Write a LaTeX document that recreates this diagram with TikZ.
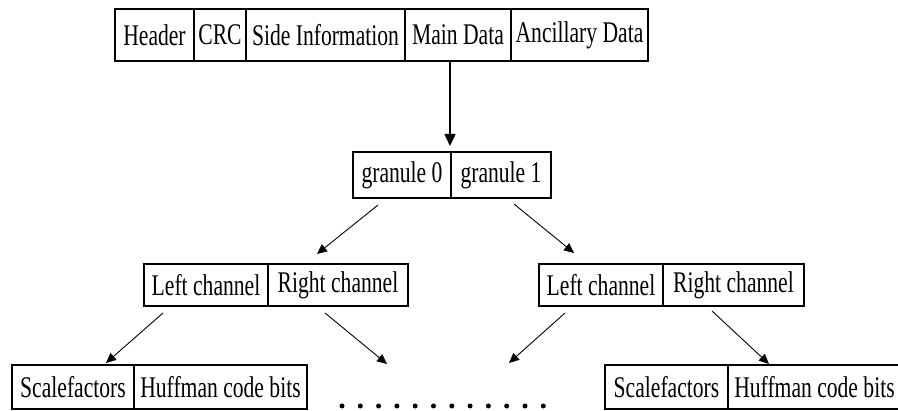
\documentclass[tikz,border=0pt]{standalone}
\usepackage{fontspec}
\setmainfont{Liberation Serif}
\usetikzlibrary{arrows.meta}
\newcommand{\cond}[1]{\scalebox{0.72}[1]{#1}}
\begin{document}
\begin{tikzpicture}[x=1pt,y=-1pt,
  cell/.style={draw, line width=1.2pt, inner sep=0pt, anchor=center,
    font=\fontsize{30}{36}\selectfont},
  link/.style={line width=0.9pt, -{Triangle[length=10pt,width=9pt]}},
  mainlink/.style={line width=1.4pt, -{Triangle[length=12pt,width=11pt]}},
  dot/.style={circle, fill, inner sep=0pt, minimum size=5pt}]
  \useasboundingbox (0,0) rectangle (898,411);

  % frame layout
  \node[cell, minimum width=79pt,  minimum height=52pt] (hdr)  at (154.5,35) {\cond{Header}};
  \node[cell, minimum width=52pt,  minimum height=52pt] (crc)  at (220,35)   {\cond{CRC}};
  \node[cell, minimum width=159pt, minimum height=52pt] (side) at (325.5,35) {\cond{Side Information}};
  \node[cell, minimum width=106pt, minimum height=52pt] (main) at (458,35)   {\cond{Main Data}};
  \node[cell, minimum width=137pt, minimum height=52pt] (anc)  at (579.5,35) {\cond{Ancillary Data}};

  % granules
  \node[cell, minimum width=98pt,  minimum height=46pt] (gr0) at (402,175) {\cond{granule 0}};
  \node[cell, minimum width=100pt, minimum height=46pt] (gr1) at (501,175) {\cond{granule 1}};

  % channels of granule 0
  \node[cell, minimum width=124pt, minimum height=42pt] (lcA) at (206,285) {\cond{Left channel}};
  \node[cell, minimum width=140pt, minimum height=42pt] (rcA) at (338,285) {\cond{Right channel}};

  % channels of granule 1
  \node[cell, minimum width=124pt, minimum height=42pt] (lcB) at (601,285)   {\cond{Left channel}};
  \node[cell, minimum width=141pt, minimum height=42pt] (rcB) at (733.5,285) {\cond{Right channel}};

  % channel contents
  \node[cell, minimum width=122pt, minimum height=44pt] (sfA) at (73,387)    {\cond{Scalefactors}};
  \node[cell, minimum width=173pt, minimum height=44pt] (hcA) at (220.5,387) {\cond{Huffman code bits}};
  \node[cell, minimum width=123pt, minimum height=44pt] (sfB) at (666.5,387) {\cond{Scalefactors}};
  \node[cell, minimum width=173pt, minimum height=44pt] (hcB) at (814.5,387) {\cond{Huffman code bits}};

  % connector end points
  \coordinate (mainTail) at (450,61);
  \coordinate (mainTip)  at (450,146);
  \coordinate (g0Tail) at (378,205);
  \coordinate (g0Tip)  at (317,254);
  \coordinate (g1Tail) at (514,204);
  \coordinate (g1Tip)  at (574,253);
  \coordinate (aLTail) at (163,313);
  \coordinate (aLTip)  at (106,363);
  \coordinate (aRTail) at (325,313);
  \coordinate (aRTip)  at (387,364);
  \coordinate (bLTail) at (565,313);
  \coordinate (bLTip)  at (509,363);
  \coordinate (bRTail) at (712,311);
  \coordinate (bRTip)  at (769,364);

  \draw[mainlink] (mainTail) -- (mainTip);
  \draw[link] (g0Tail) -- (g0Tip);
  \draw[link] (g1Tail) -- (g1Tip);
  \draw[link] (aLTail) -- (aLTip);
  \draw[link] (aRTail) -- (aRTip);
  \draw[link] (bLTail) -- (bLTip);
  \draw[link] (bRTail) -- (bRTip);

  % ellipsis
  \foreach \i in {0,...,11}
    \node[dot] (ell\i) at (342+\i*18.3,406) {};
\end{tikzpicture}
\end{document}
